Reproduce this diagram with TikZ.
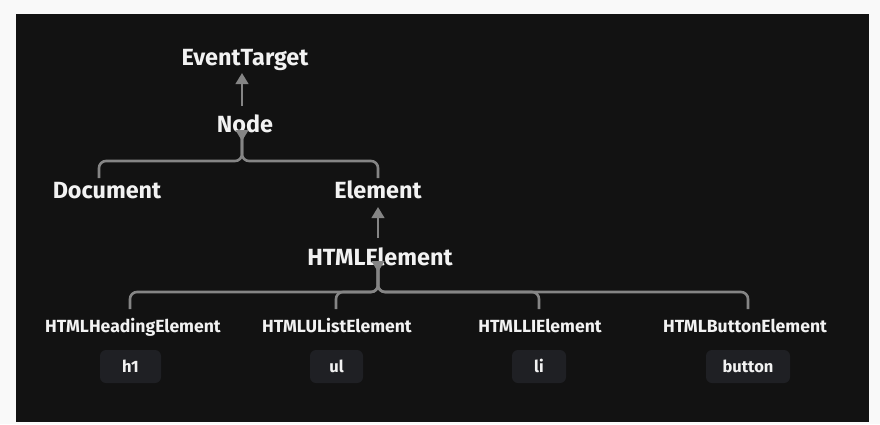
\documentclass[tikz,border=0pt]{standalone}
\usepackage{fontspec}
\setmainfont{Fira Sans}
\usetikzlibrary{arrows.meta}
\definecolor{outerbg}{HTML}{F9F9F9}
\definecolor{darkbg}{HTML}{121212}
\definecolor{linegray}{HTML}{858585}
\definecolor{boxfill}{HTML}{1F2024}
\definecolor{txt}{HTML}{F2F2F2}
\tikzset{
  big/.style={text=txt, font=\fontsize{23.4}{26}\selectfont\bfseries, inner sep=0pt, anchor=base},
  small/.style={text=txt, font=\fontsize{17.6}{20}\selectfont\bfseries, inner sep=0pt, anchor=base},
  tagbox/.style={fill=boxfill, rounded corners=6pt, minimum width=53pt, minimum height=33pt, anchor=center},
  tagtext/.style={text=txt, font=\fontsize{16.5}{19}\selectfont\bfseries, inner sep=0pt, anchor=base},
  conn/.style={draw=linegray, line width=2.6pt, rounded corners=7pt},
  arr/.style={draw=linegray, line width=2.6pt, -{Triangle[length=11pt,width=12.5pt]}},
}
\begin{document}
\begin{tikzpicture}[x=1pt,y=-1pt]
\fill[outerbg] (0,0) rectangle (880,424);
\fill[darkbg] (16,14) rectangle (869,422);
\useasboundingbox (0,0) rectangle (880,424);

\node[big] (et) at (245,65) {EventTarget};
\node[big] (nd) at (245,132) {Node};
\node[big] (doc) at (107,198) {Document};
\node[big] (el) at (378,198) {Element};
\node[big] (he) at (380,265) {HTMLElement};

\node[small] (hh) at (133,332) {HTMLHeadingElement};
\node[small] (hu) at (337,332) {HTMLUListElement};
\node[small] (hl) at (540,332) {HTMLLIElement};
\node[small] (hb) at (745,332) {HTMLButtonElement};

\node[tagbox, minimum width=61pt] (b1) at (130.5,366.5) {};
\node[tagbox] (b2) at (336.5,366.5) {};
\node[tagbox, minimum width=54pt] (b3) at (539,366.5) {};
\node[tagbox, minimum width=84pt] (b4) at (748,366.5) {};
\node[tagtext] (t1) at (130.5,372) {h1};
\node[tagtext] (t2) at (336.5,372) {ul};
\node[tagtext] (t3) at (539,372) {li};
\node[tagtext] (t4) at (748,372) {button};

% coordinates
\coordinate (etb) at (242,73);
\coordinate (ndt) at (242,106);
\coordinate (ndb) at (242,141);
\coordinate (j1) at (242,161);
\coordinate (d1) at (99,178);
\coordinate (d2) at (378,178);
\coordinate (elb) at (378,207);
\coordinate (het) at (378,238);
\coordinate (heb) at (378,272);
\coordinate (j2) at (378,292);
\coordinate (c1) at (130,309);
\coordinate (c2) at (336,309);
\coordinate (c3) at (539,309);
\coordinate (c4) at (748,309);

\draw[arr] (ndt) -- (etb);
\draw[arr] (het) -- (elb);

\draw[conn] (d1) |- (j1) -- ([yshift=6]ndb);
\draw[conn] (d2) |- (j1) -- ([yshift=6]ndb);
\draw[arr] ([yshift=9]ndb) -- (ndb);

\draw[conn] (c1) |- (j2) -- ([yshift=6]heb);
\draw[conn] (c2) |- (j2) -- ([yshift=6]heb);
\draw[conn] (c3) |- (j2) -- ([yshift=6]heb);
\draw[conn] (c4) |- (j2) -- ([yshift=6]heb);
\draw[arr] ([yshift=9]heb) -- (heb);
\end{tikzpicture}
\end{document}
